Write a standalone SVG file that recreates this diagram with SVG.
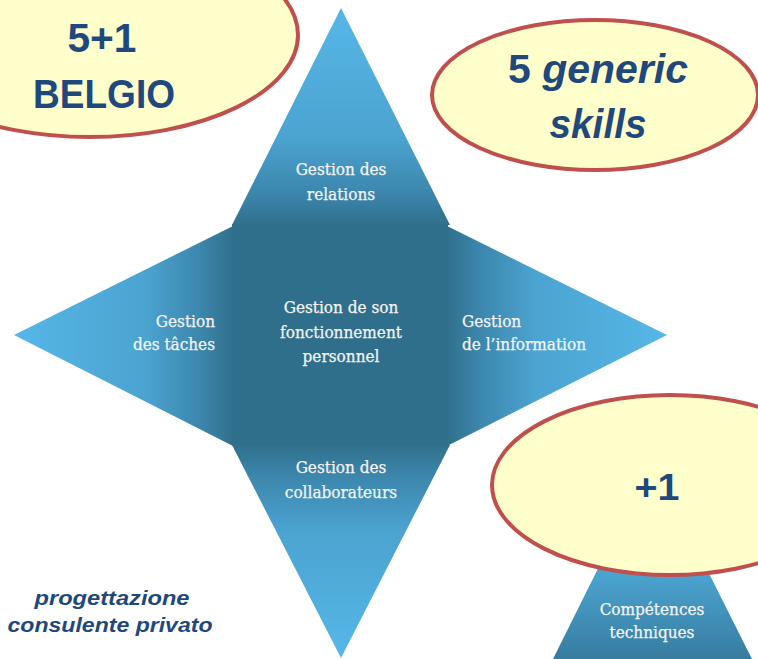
<svg xmlns="http://www.w3.org/2000/svg" width="758" height="659" viewBox="0 0 758 659">
<defs>
<linearGradient id="gTop" x1="0" y1="8" x2="0" y2="226" gradientUnits="userSpaceOnUse">
<stop offset="0" stop-color="#56b7e7"/><stop offset="0.6" stop-color="#4ba3d0"/><stop offset="0.85" stop-color="#3c86ac"/><stop offset="1" stop-color="#306f8b"/>
</linearGradient>
<linearGradient id="gBot" x1="0" y1="658" x2="0" y2="444" gradientUnits="userSpaceOnUse">
<stop offset="0" stop-color="#56b7e7"/><stop offset="0.6" stop-color="#4ba3d0"/><stop offset="0.85" stop-color="#3c86ac"/><stop offset="1" stop-color="#306f8b"/>
</linearGradient>
<linearGradient id="gLeft" x1="14" y1="0" x2="234" y2="0" gradientUnits="userSpaceOnUse">
<stop offset="0" stop-color="#56b7e7"/><stop offset="0.6" stop-color="#4ba3d0"/><stop offset="0.85" stop-color="#3c86ac"/><stop offset="1" stop-color="#306f8b"/>
</linearGradient>
<linearGradient id="gRight" x1="667" y1="0" x2="446" y2="0" gradientUnits="userSpaceOnUse">
<stop offset="0" stop-color="#56b7e7"/><stop offset="0.6" stop-color="#4ba3d0"/><stop offset="0.85" stop-color="#3c86ac"/><stop offset="1" stop-color="#306f8b"/>
</linearGradient>
<linearGradient id="gTech" x1="0" y1="560" x2="0" y2="659" gradientUnits="userSpaceOnUse">
<stop offset="0" stop-color="#4eaad8"/><stop offset="1" stop-color="#377c9f"/>
</linearGradient>
<style>
.bub{fill:#ffffcc;stroke:#c0504d;stroke-width:4}
.big{font-family:"Liberation Sans",Arial,sans-serif;font-weight:bold;fill:#1f497d;text-anchor:middle}
.lab{font-family:"DejaVu Serif Condensed","DejaVu Serif",serif;font-size:17px;fill:#f4f4f4;stroke:#f4f4f4;stroke-width:0.25}
.mid{text-anchor:middle}
.note{font-family:"Liberation Sans",Arial,sans-serif;font-weight:bold;font-style:italic;font-size:21px;fill:#1f497d;text-anchor:middle}
</style>
</defs>

<g id="star">
<polygon points="341,8 232,225 450,225" fill="url(#gTop)"/>
<polygon points="14,335 233,226 233,446" fill="url(#gLeft)"/>
<polygon points="667,335 447,226 447,446" fill="url(#gRight)"/>
<polygon points="341,658 232,445 450,445" fill="url(#gBot)"/>
<rect x="232" y="224" width="216" height="222" fill="#306f8b"/>
</g>

<g id="node-relations">
<text class="lab mid" x="341" y="175">Gestion des</text>
<text class="lab mid" x="341" y="200">relations</text>
</g>
<g id="node-personnel">
<text class="lab mid" x="341" y="313">Gestion de son</text>
<text class="lab mid" x="341" y="338">fonctionnement</text>
<text class="lab mid" x="341" y="362">personnel</text>
</g>
<g id="node-taches">
<text class="lab" x="215" y="327" text-anchor="end">Gestion</text>
<text class="lab" x="215" y="350" text-anchor="end">des tâches</text>
</g>
<g id="node-information">
<text class="lab" x="462" y="327">Gestion</text>
<text class="lab" x="462" y="350">de l’information</text>
</g>
<g id="node-collaborateurs">
<text class="lab mid" x="341" y="473">Gestion des</text>
<text class="lab mid" x="341" y="498">collaborateurs</text>
</g>

<g id="node-techniques">
<polygon points="652,460 553,659 752,659" fill="url(#gTech)"/>
<text class="lab mid" x="652" y="615">Compétences</text>
<text class="lab mid" x="652" y="638">techniques</text>
</g>

<g id="bubble-belgio">
<ellipse class="bub" cx="90" cy="35" rx="208" ry="102"/>
<text class="big" x="102" y="52" font-size="40" textLength="69" lengthAdjust="spacingAndGlyphs">5+1</text>
<text class="big" x="104" y="108" font-size="40" textLength="142" lengthAdjust="spacingAndGlyphs">BELGIO</text>
</g>

<g id="bubble-generic">
<ellipse class="bub" cx="595" cy="95" rx="163" ry="75"/>
<text class="big" x="598" y="83" font-size="40" textLength="180" lengthAdjust="spacingAndGlyphs">5 <tspan font-style="italic">generic</tspan></text>
<text class="big" x="598" y="138" font-size="40" font-style="italic" textLength="97" lengthAdjust="spacingAndGlyphs">skills</text>
</g>

<g id="bubble-plus1">
<ellipse class="bub" cx="670" cy="485" rx="178" ry="90"/>
<text class="big" x="657" y="500" font-size="37" textLength="45" lengthAdjust="spacingAndGlyphs">+1</text>
</g>

<g id="note">
<text class="note" x="112" y="605" textLength="155" lengthAdjust="spacingAndGlyphs">progettazione</text>
<text class="note" x="110" y="632" textLength="205" lengthAdjust="spacingAndGlyphs">consulente privato</text>
</g>
</svg>
